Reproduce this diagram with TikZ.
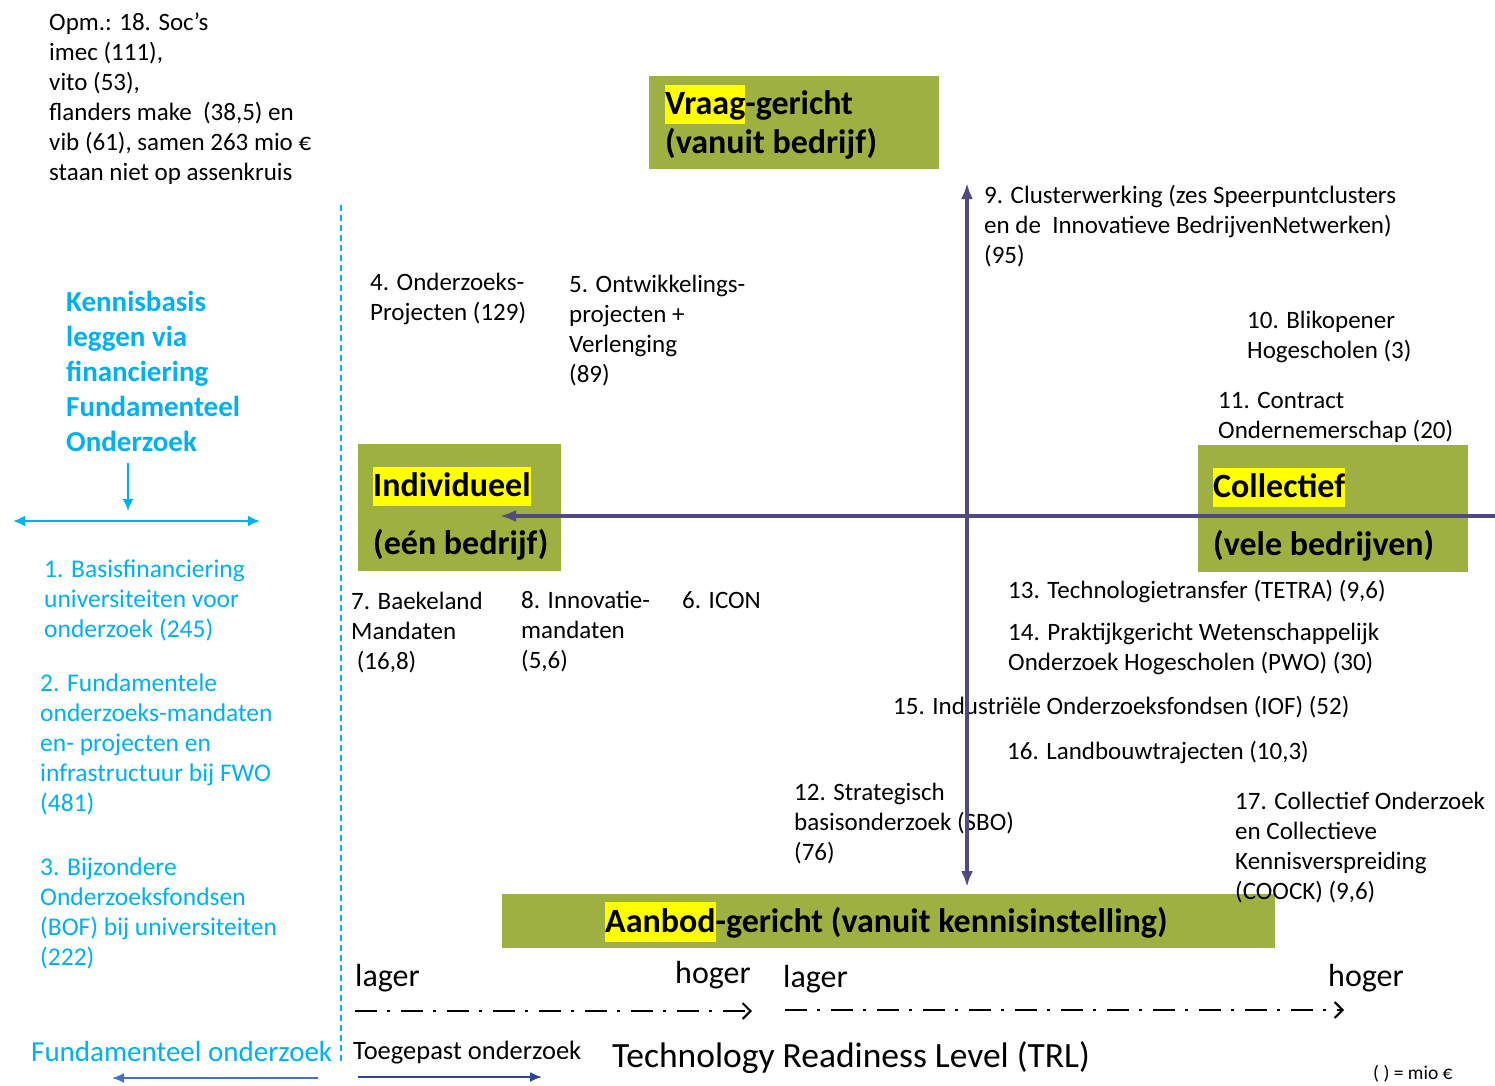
\documentclass[tikz,border=0pt]{standalone}
\usepackage{fontspec}
\setmainfont{Carlito}
\usetikzlibrary{arrows.meta}
\definecolor{boxgreen}{RGB}{157,176,65}
\definecolor{hlyellow}{RGB}{255,255,0}
\definecolor{axispurple}{RGB}{80,74,128}
\definecolor{kbblue}{RGB}{0,176,240}
\definecolor{fundblue}{RGB}{68,114,196}
\definecolor{toegblue}{RGB}{47,72,140}
\newcommand{\hlword}[1]{{\setlength{\fboxsep}{0pt}\colorbox{hlyellow}{\vrule height .87em depth .28em width 0pt\relax #1}}}
\begin{document}
\begin{tikzpicture}[x=1pt,y=-1pt,
  item/.style={anchor=north west,inner sep=0pt,align=left,font=\fontsize{25}{30}\selectfont},
  kbitem/.style={item,text=kbblue,font=\fontsize{25.5}{30}\selectfont},
  greenbox/.style={fill=boxgreen,inner sep=0pt},
  boxtxt/.style={anchor=north west,inner sep=0pt,align=left},
  trl/.style={anchor=base west,inner sep=0pt,font=\fontsize{32}{38}\selectfont},
  dashdot/.style={line width=2pt,dash pattern=on 22pt off 10pt on 3pt off 11pt,-{Straight Barb[length=8pt,width=16pt]}},
  axis/.style={draw=axispurple,line width=3.5pt},
  kbarrow/.style={kbblue,line width=2.5pt}]
\useasboundingbox (0,0) rectangle (1495,1085);
\node[greenbox,minimum width=290,minimum height=93] (vraagbox) at (794,122.5) {};
\node[greenbox,minimum width=203,minimum height=127] (indivbox) at (459.5,507.5) {};
\node[greenbox,minimum width=270,minimum height=127] (collbox) at (1333,508.5) {};
\node[greenbox,minimum width=773,minimum height=54] (aanbodbox) at (888.5,921) {};
\node[boxtxt,font=\bfseries\fontsize{34}{39}\selectfont] (vraagtxt) at (665,85) {\hlword{Vraag}-gericht\\(vanuit bedrijf)};
\node[boxtxt,font=\bfseries\fontsize{34}{58}\selectfont] (indivtxt) at (373,467) {\hlword{Individueel}\\(eén bedrijf)};
\node[boxtxt,font=\bfseries\fontsize{34}{58}\selectfont] (colltxt) at (1213,468) {\hlword{Collectief}\\(vele bedrijven)};
\node[anchor=base west,inner sep=0pt,font=\bfseries\fontsize{34}{40}\selectfont] (aanbodtxt) at (605,932) {\hlword{Aanbod}-gericht (vanuit kennisinstelling)};
\node[item,font=\fontsize{25}{30}\selectfont] (opm) at (49,13) {Opm.: 18. Soc’s\\imec (111),\\vito (53),\\flanders make\ \ (38,5) en\\vib (61), samen 263 mio €\\staan niet op assenkruis};
\node[kbitem,font=\bfseries\fontsize{29}{35}\selectfont] (kbhead) at (66,291) {Kennisbasis\\leggen via\\financiering\\Fundamenteel\\Onderzoek};
\node[kbitem] (kb1) at (44,560) {1. Basisfinanciering\\universiteiten voor\\onderzoek (245)};
\node[kbitem] (kb2) at (40,674) {2. Fundamentele\\onderzoeks-mandaten\\en- projecten en\\infrastructuur bij FWO\\(481)};
\node[kbitem] (kb3) at (40,858) {3. Bijzondere\\Onderzoeksfondsen\\(BOF) bij universiteiten\\(222)};
\node[item] (clus) at (984,185) {9. Clusterwerking (zes Speerpuntclusters\\en de\ \ Innovatieve BedrijvenNetwerken)\\(95)};
\node[item] (ozp) at (370,273) {4. Onderzoeks-\\Projecten (129)};
\node[item] (owp) at (569,275) {5. Ontwikkelings-\\projecten +\\Verlenging\\(89)};
\node[item] (blik) at (1247,311) {10. Blikopener\\Hogescholen (3)};
\node[item] (contr) at (1218,392) {11. Contract\\Ondernemerschap (20)};
\node[item] (baek) at (351,592) {7. Baekeland\\Mandaten\\\ (16,8)};
\node[item] (innov) at (521,591) {8. Innovatie-\\mandaten\\(5,6)};
\node[item] (icon) at (682,591) {6. ICON};
\node[item] (tetra) at (1008,580) {13. Technologietransfer (TETRA) (9,6)};
\node[item] (pwo) at (1008,623) {14. Praktijkgericht Wetenschappelijk\\Onderzoek Hogescholen (PWO) (30)};
\node[item] (iof) at (893,696) {15. Industriële Onderzoeksfondsen (IOF) (52)};
\node[item] (landb) at (1007,741) {16. Landbouwtrajecten (10,3)};
\node[item] (sbo) at (794,783) {12. Strategisch\\basisonderzoek (SBO)\\(76)};
\node[item] (coock) at (1235,792) {17. Collectief Onderzoek\\en Collectieve\\Kennisverspreiding\\(COOCK) (9,6)};
\node[trl] (lager1) at (355,986) {lager};
\node[trl] (hoger1) at (675,983) {hoger};
\node[trl] (lager2) at (783,987) {lager};
\node[trl] (hoger2) at (1328,986) {hoger};
\node[anchor=base west,inner sep=0pt,font=\fontsize{35.5}{40}\selectfont] (trllbl) at (612,1067) {Technology Readiness Level (TRL)};
\node[anchor=base west,inner sep=0pt,text=kbblue,font=\fontsize{29}{34}\selectfont] (fundlbl) at (31,1061) {Fundamenteel onderzoek};
\node[anchor=base west,inner sep=0pt,font=\fontsize{26.5}{30}\selectfont] (toeglbl) at (353,1059) {Toegepast onderzoek};
\node[anchor=base west,inner sep=0pt,font=\fontsize{19.5}{22}\selectfont] (mio) at (1373,1079) {( ) = mio €};
\coordinate (dtop) at (341,205);
\coordinate (dbot) at (341,1065);
\coordinate (kbtop) at (128,463);
\coordinate (kbbot) at (128,511);
\coordinate (kbl) at (13,521);
\coordinate (kbr) at (260,521);
\coordinate (dd1s) at (355,1011);
\coordinate (dd1e) at (752,1011);
\coordinate (dd2s) at (785,1010);
\coordinate (dd2e) at (1344,1010);
\coordinate (fundr) at (318,1078);
\coordinate (fundl) at (112,1078);
\coordinate (toegl) at (358,1077);
\coordinate (toegr) at (542,1077);
\coordinate (vtop) at (967,183);
\coordinate (vbot) at (967,887);
\coordinate (hleft) at (500,516);
\coordinate (hright) at (1495,516);
\draw[kbblue,line width=1.5pt,dash pattern=on 6pt off 4pt] (dtop) -- (dbot);
\draw[kbarrow,-{Latex[length=12pt,width=11pt]}] (kbtop) -- (kbbot);
\draw[kbarrow,{Latex[length=12pt,width=11pt]}-{Latex[length=12pt,width=11pt]}] (kbl) -- (kbr);
\draw[dashdot] (dd1s) -- (dd1e);
\draw[dashdot] (dd2s) -- (dd2e);
\draw[fundblue,line width=2pt,-{Latex[length=12pt,width=10pt]}] (fundr) -- (fundl);
\draw[toegblue,line width=2pt,-{Latex[length=12pt,width=10pt]}] (toegl) -- (toegr);
\draw[axis,{Latex[length=16pt,width=12pt]}-{Latex[length=16pt,width=12pt]}] (vbot) -- (vtop);
\draw[axis,-{Latex[length=16pt,width=12pt]}] (hright) -- (hleft);
\end{tikzpicture}
\end{document}
